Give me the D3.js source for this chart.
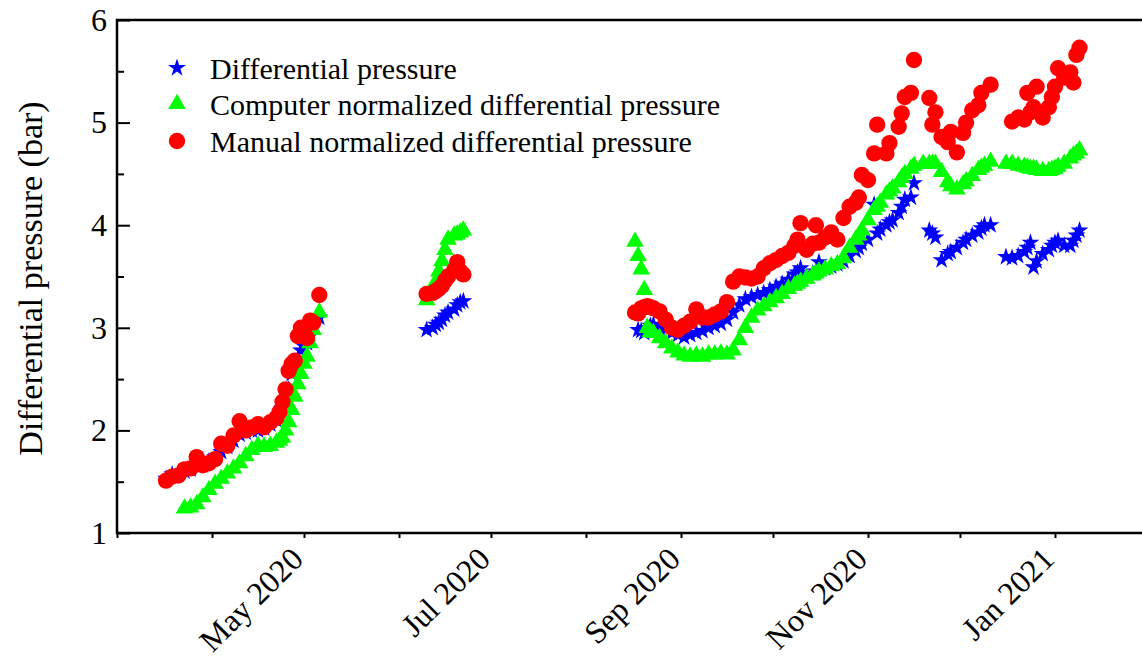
<!DOCTYPE html>
<html>
<head>
<meta charset="utf-8">
<script src="https://cdn.jsdelivr.net/npm/d3@7"></script>
<style>
  html, body { margin: 0; padding: 0; background: #fff; }
  svg { display: block; }
  text { font-family: "Liberation Serif", "Times New Roman", serif; fill: #000; }
</style>
</head>
<body>
<svg id="chart" width="1142" height="657"></svg>
<script>
// sampling dates (shared by the three series)
const dates = [
  "2020-03-17","2020-03-19","2020-03-21","2020-03-23","2020-03-25","2020-03-27","2020-03-29","2020-03-31",
  "2020-04-02","2020-04-04","2020-04-06","2020-04-08","2020-04-10","2020-04-12","2020-04-14","2020-04-16",
  "2020-04-18","2020-04-20","2020-04-22","2020-04-23","2020-04-24","2020-04-25","2020-04-26","2020-04-27",
  "2020-04-28","2020-04-29","2020-04-30","2020-05-01","2020-05-02","2020-05-03","2020-05-04","2020-05-06",
  "2020-06-10","2020-06-12","2020-06-13","2020-06-14","2020-06-15","2020-06-16","2020-06-17","2020-06-19",
  "2020-06-20","2020-06-21","2020-06-22",
  "2020-08-17","2020-08-18","2020-08-19","2020-08-20","2020-08-21","2020-08-22","2020-08-23","2020-08-25",
  "2020-08-27","2020-08-29","2020-08-31","2020-09-02","2020-09-04","2020-09-06","2020-09-08","2020-09-10",
  "2020-09-12","2020-09-14","2020-09-16","2020-09-18","2020-09-20","2020-09-22","2020-09-24","2020-09-26",
  "2020-09-28","2020-09-30","2020-10-02","2020-10-04","2020-10-06","2020-10-08","2020-10-09","2020-10-10",
  "2020-10-12","2020-10-14","2020-10-15","2020-10-16","2020-10-18","2020-10-20","2020-10-22","2020-10-24",
  "2020-10-26","2020-10-28","2020-10-29","2020-10-30","2020-11-01","2020-11-03","2020-11-04","2020-11-05",
  "2020-11-07","2020-11-08","2020-11-09","2020-11-11","2020-11-12","2020-11-13","2020-11-15","2020-11-16",
  "2020-11-19","2020-11-21","2020-11-22","2020-11-23","2020-11-25","2020-11-27","2020-11-28","2020-11-30",
  "2020-12-02","2020-12-03","2020-12-05","2020-12-07","2020-12-08","2020-12-09","2020-12-11",
  "2020-12-16","2020-12-18","2020-12-20","2020-12-22","2020-12-23","2020-12-24","2020-12-25","2020-12-26",
  "2020-12-28","2020-12-30","2020-12-31","2021-01-01","2021-01-02","2021-01-04","2021-01-06","2021-01-07",
  "2021-01-08","2021-01-09"
];
// differential pressure (bar)
const dp = [
  1.53,1.57,1.58,1.60,1.62,1.66,1.66,1.70,
  1.74,1.79,1.84,1.90,1.96,1.98,2.00,2.00,
  2.02,2.06,2.10,2.15,2.22,2.30,2.40,2.55,
  2.62,2.70,2.78,2.82,2.85,2.92,3.02,3.10,
  2.98,3.00,3.03,3.05,3.08,3.12,3.15,3.18,
  3.22,3.25,3.26,
  null,2.98,2.97,2.95,3.00,3.02,3.03,3.00,
  2.99,2.95,2.93,2.91,2.93,2.95,2.97,3.00,
  3.02,3.04,3.08,3.15,3.22,3.28,3.30,3.32,
  3.34,3.37,3.40,3.43,3.47,3.52,3.54,3.58,
  3.50,3.53,3.55,3.64,3.58,3.60,3.62,3.65,
  3.70,3.75,3.78,3.82,3.86,4.20,3.92,3.96,
  4.00,4.03,4.05,4.12,4.18,4.25,4.27,4.41,
  null,3.95,3.92,3.88,3.66,3.72,3.74,3.78,
  3.83,3.86,3.90,3.93,3.97,4.00,4.00,
  3.69,3.68,3.70,3.74,3.78,3.83,3.59,3.65,
  3.72,3.76,3.80,3.83,3.85,3.80,3.80,3.85,
  3.90,3.95
];
// computer normalized differential pressure (bar)
const cndp = [
  null,null,null,1.24,1.25,1.28,1.35,1.42,
  1.48,1.53,1.58,1.63,1.68,1.75,1.81,1.85,
  1.84,1.85,1.88,1.90,1.93,2.00,2.08,2.20,
  2.33,2.45,2.55,2.65,2.72,2.85,2.98,3.15,
  3.27,3.35,3.45,3.55,3.65,3.76,3.86,3.90,
  3.91,3.93,3.95,
  3.84,3.70,3.57,3.37,3.00,2.96,2.95,2.90,
  2.85,2.80,2.76,2.73,2.72,2.73,2.72,2.74,
  2.74,2.75,2.74,2.78,2.88,3.00,3.10,3.17,
  3.21,3.25,3.29,3.33,3.38,3.41,3.43,3.45,
  3.48,3.51,3.53,3.55,3.57,3.60,3.62,3.68,
  3.78,3.86,3.90,3.95,4.05,4.15,4.18,4.22,
  4.30,4.33,4.36,4.42,4.46,4.50,4.55,4.58,
  4.60,4.60,4.60,4.60,4.52,4.42,4.38,4.35,
  4.40,4.43,4.48,4.54,4.56,4.58,4.62,
  4.60,4.60,4.58,4.57,4.56,4.55,4.55,4.54,
  4.53,4.53,4.54,4.55,4.57,4.60,4.65,4.68,
  4.70,4.73
];
// manual normalized differential pressure (bar)
const mndp = [
  1.51,1.55,1.56,1.62,1.63,1.74,1.66,1.68,
  1.72,1.87,1.85,1.95,2.09,2.00,2.03,2.06,
  2.03,2.08,2.12,2.18,2.28,2.40,2.58,2.65,
  2.68,2.92,3.00,2.98,2.90,3.07,3.05,3.32,
  3.33,3.34,3.36,3.38,3.41,3.46,3.50,3.56,
  3.64,3.55,3.52,
  3.15,3.14,3.19,3.20,3.21,3.20,3.19,3.16,
  3.08,3.00,2.98,3.02,3.06,3.18,3.10,3.10,
  3.13,3.16,3.25,3.45,3.50,3.49,3.48,3.50,
  3.58,3.63,3.66,3.70,3.73,3.80,3.86,4.02,
  3.76,3.82,4.00,3.83,3.88,3.93,3.86,4.07,
  4.18,4.22,4.27,4.49,4.44,4.70,4.98,null,
  4.70,4.80,null,4.96,5.09,5.25,5.29,5.61,
  null,5.24,4.98,5.10,4.86,4.81,4.91,4.71,
  4.90,5.00,5.12,5.17,5.29,null,5.37,
  null,5.01,5.05,5.03,5.29,5.10,5.15,5.35,
  5.05,5.15,5.25,5.35,5.53,5.44,5.49,5.39,
  5.66,5.73
];
const seriesNames = [
  "Differential pressure",
  "Computer normalized differential pressure",
  "Manual normalized differential pressure"
];
const labelMonths = ["2020-05-01", "2020-07-01", "2020-09-01", "2020-11-01", "2021-01-01"];

const parse = d3.utcParse("%Y-%m-%d");
const svg = d3.select("#chart");
const m = { left: 117, top: 20, bottom: 533, right: 1150 };

const x = d3.scaleUtc()
  .domain([parse("2020-03-01"), parse("2021-02-01")])
  .range([m.left, m.right]);
const y = d3.scaleLinear().domain([1, 6]).range([m.bottom, m.top]);

const series = [
  { name: seriesNames[0], values: dp, color: "#0000ff", type: d3.symbolStar, size: 100 },
  { name: seriesNames[1], values: cndp, color: "#00ff00", type: d3.symbolTriangle, size: 135 },
  { name: seriesNames[2], values: mndp, color: "#ff0000", type: d3.symbolCircle, size: 210 }
];

// points
const plot = svg.append("g").attr("class", "plot");
series.forEach(s => {
  const pts = dates.map((d, i) => ({ date: parse(d), v: s.values[i] })).filter(p => p.v != null);
  plot.append("g")
    .selectAll("path")
    .data(pts)
    .join("path")
    .attr("transform", p => `translate(${x(p.date)},${y(p.v)})`)
    .attr("d", d3.symbol().type(s.type).size(s.size))
    .attr("fill", s.color);
});

// frame
svg.append("rect")
  .attr("x", m.left).attr("y", m.top)
  .attr("width", m.right - m.left).attr("height", m.bottom - m.top)
  .attr("fill", "none").attr("stroke", "#000").attr("stroke-width", 2.5);

// y axis major + minor ticks (inward)
const yAxis = svg.append("g").attr("transform", `translate(${m.left},0)`)
  .call(d3.axisLeft(y).tickValues([1, 2, 3, 4, 5, 6]).tickSize(-13).tickPadding(10).tickFormat(d3.format("d")));
svg.append("g").attr("transform", `translate(${m.left},0)`)
  .call(d3.axisLeft(y).tickValues([1.5, 2.5, 3.5, 4.5, 5.5]).tickSize(-7).tickFormat(""))
  .call(g => g.select(".domain").remove());
yAxis.select(".domain").remove();
yAxis.selectAll("text").style("font-size", "32px");

// x axis: monthly ticks outward
const xAxis = svg.append("g").attr("transform", `translate(0,${m.bottom})`)
  .call(d3.axisBottom(x).ticks(d3.utcMonth.every(1)).tickSize(5).tickFormat(""));
xAxis.select(".domain").remove();
svg.selectAll(".tick line").attr("stroke-width", 2);

const fmt = d3.utcFormat("%b %Y");
svg.append("g").selectAll("text")
  .data(labelMonths.map(parse))
  .join("text")
  .attr("transform", d => `translate(${x(d) + 1},${m.bottom + 28}) rotate(-45)`)
  .attr("text-anchor", "end")
  .style("font-size", "32px")
  .text(d => fmt(d));

// y title
svg.append("text")
  .attr("transform", `translate(42,${(m.top + m.bottom) / 2 + 2}) rotate(-90)`)
  .attr("text-anchor", "middle")
  .style("font-size", "34px")
  .text("Differential pressure (bar)");

// legend
const legend = svg.append("g");
const rowsY = [68, 104, 141];
series.forEach((s, i) => {
  legend.append("path")
    .attr("transform", `translate(177,${rowsY[i]})`)
    .attr("d", d3.symbol().type(s.type).size(s.size))
    .attr("fill", s.color);
  legend.append("text")
    .attr("x", 210).attr("y", rowsY[i])
    .attr("dy", "0.35em")
    .style("font-size", "30px")
    .text(s.name);
});
</script>
</body>
</html>
